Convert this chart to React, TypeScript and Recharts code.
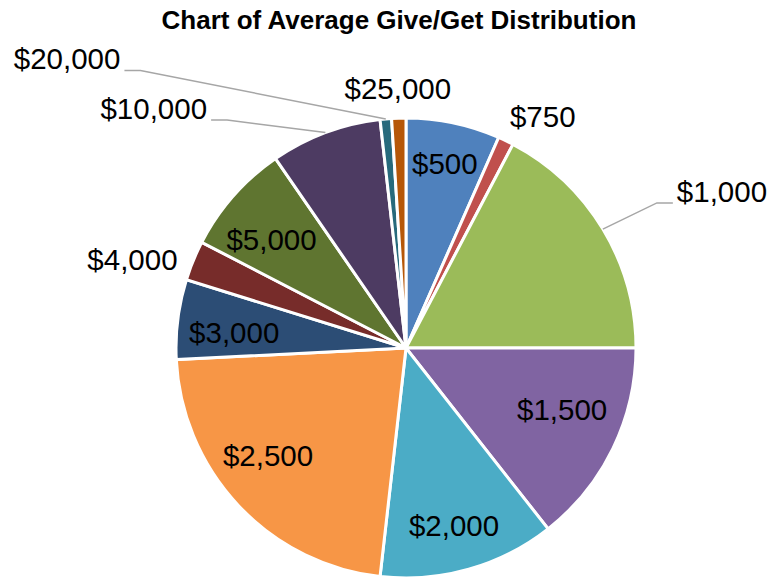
import { Cell, Pie, PieChart } from "recharts";

// share of members per average give/get band (percent)
const bands = ["$500", "$750", "$1,000", "$1,500", "$2,000", "$2,500", "$3,000", "$4,000", "$5,000", "$10,000", "$20,000", "$25,000"];
const shares = [6.6, 1.1, 17.3, 14.4, 12.4, 22.4, 5.6, 2.8, 7.8, 7.8, 0.8, 1.0];
const colors = ["#4F81BD", "#C0504D", "#9BBB59", "#8064A2", "#4BACC6", "#F79646", "#2C4D75", "#772C2A", "#5F7530", "#4D3B62", "#276A7C", "#B65708"];

// where each label sits: angle shift (deg, clockwise) from the slice middle and radius factor
// side is set only for the labels that hang on a leader line
const placement: Array<{ dA: number; r: number; side?: "left" | "right" }> = [
  { dA: 0, r: 0.82 },
  { dA: 4.8, r: 1.17 },
  { dA: 1.1, r: 1.26, side: "right" },
  { dA: -4.3, r: 0.73 },
  { dA: 0.7, r: 0.8 },
  { dA: 5.3, r: 0.76 },
  { dA: -2.1, r: 0.75 },
  { dA: -4.4, r: 1.25 },
  { dA: -2.6, r: 0.75 },
  { dA: -17.6, r: 1.26, side: "left" },
  { dA: -38.7, r: 1.67, side: "left" },
  { dA: 0, r: 1.13 }
];

const data = bands.map((name, i) => ({ name, value: shares[i] }));

const RAD = Math.PI / 180;
const FONT = "'Liberation Sans', Arial, sans-serif";
const LABEL_SIZE = 29.5;

function polar(cx: number, cy: number, r: number, angle: number) {
  return { x: cx + r * Math.cos(-angle * RAD), y: cy + r * Math.sin(-angle * RAD) };
}

function renderLabel(props: any) {
  const { cx, cy, midAngle, outerRadius, index, name } = props;
  const p = placement[index];
  const angle = midAngle - p.dA;

  if (!p.side) {
    const pos = polar(cx, cy, outerRadius * p.r, angle);
    return (
      <text x={pos.x} y={pos.y} textAnchor="middle" dominantBaseline="central" fill="#000" fontSize={LABEL_SIZE} fontFamily={FONT}>
        {name}
      </text>
    );
  }

  const start = polar(cx, cy, outerRadius, midAngle);
  const elbow = polar(cx, cy, outerRadius * p.r, angle);
  const dir = p.side === "right" ? 1 : -1;
  const end = { x: elbow.x + dir * 16, y: elbow.y };
  return (
    <g>
      <polyline
        points={`${start.x},${start.y} ${elbow.x},${elbow.y} ${end.x},${end.y}`}
        fill="none"
        stroke="#A6A6A6"
        strokeWidth={1.5}
      />
      <text
        x={elbow.x + dir * 20}
        y={elbow.y - 1}
        textAnchor={p.side === "right" ? "start" : "end"}
        fill="#000"
        fontSize={LABEL_SIZE}
        fontFamily={FONT}
      >
        {name}
      </text>
    </g>
  );
}

export default function App() {
  return (
    <div style={{ position: "absolute", left: 0, top: 0, width: 769, height: 577, background: "#fff" }}>
      <div
        style={{
          position: "absolute",
          left: 0,
          width: 798,
          top: 4,
          textAlign: "center",
          fontFamily: FONT,
          fontWeight: "bold",
          fontSize: 26,
          lineHeight: "32px",
          color: "#000"
        }}
      >
        Chart of Average Give/Get Distribution
      </div>
      <PieChart
        width={769}
        height={577}
        margin={{ top: 0, right: 0, bottom: 0, left: 0 }}
        style={{ position: "absolute", left: 0, top: 0 }}
      >
        <Pie
          data={data}
          dataKey="value"
          nameKey="name"
          cx={406}
          cy={348}
          outerRadius={230}
          startAngle={90}
          endAngle={-270}
          stroke="#fff"
          strokeWidth={3}
          label={renderLabel}
          labelLine={false}
          isAnimationActive={false}
        >
          {data.map((entry, i) => (
            <Cell key={entry.name} fill={colors[i]} />
          ))}
        </Pie>
      </PieChart>
    </div>
  );
}
